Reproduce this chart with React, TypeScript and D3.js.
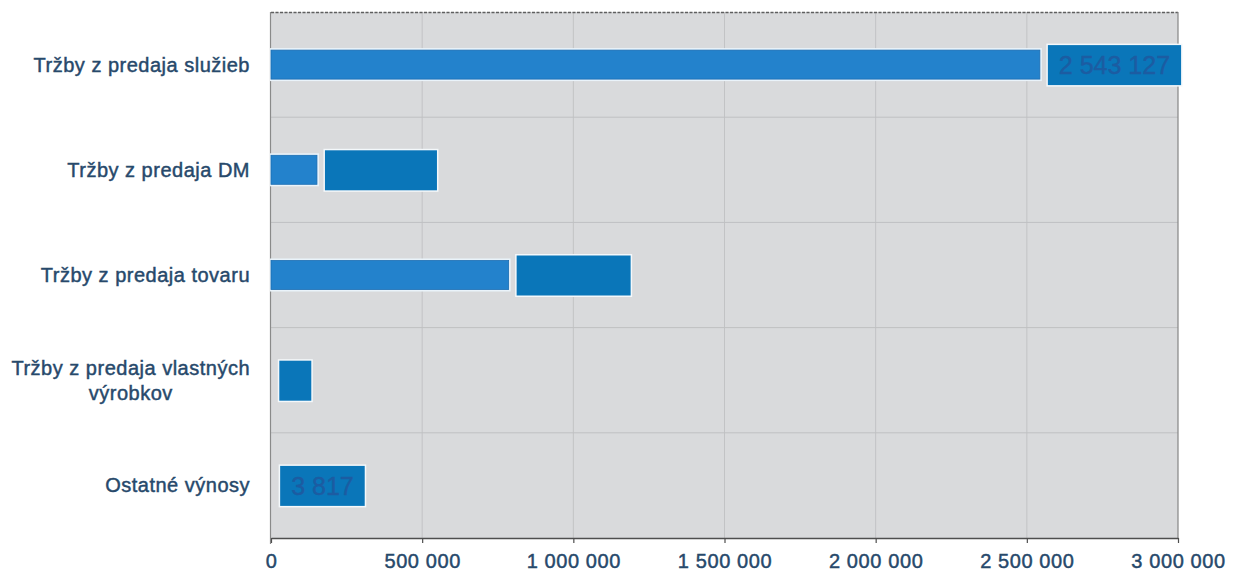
import React, { useEffect, useRef } from "react";
import * as d3 from "d3";

// ---- data ----
const categories = [
  "Tržby z predaja služieb",
  "Tržby z predaja DM",
  "Tržby z predaja tovaru",
  "Tržby z predaja vlastných výrobkov",
  "Ostatné výnosy",
];
const categoryLines = [
  ["Tržby z predaja služieb"],
  ["Tržby z predaja DM"],
  ["Tržby z predaja tovaru"],
  ["Tržby z predaja vlastných", "výrobkov"],
  ["Ostatné výnosy"],
];
const values = [2543127, 152000, 786000, 1000, 3817];
// null = value label is blacked out in the source
const valueLabels: (string | null)[] = ["2 543 127", null, null, null, "3 817"];
const redactedBoxWidths = [0, 112, 114, 32, 0];
const xTicks = [0, 500000, 1000000, 1500000, 2000000, 2500000, 3000000];
const xTickLabels = ["0", "500 000", "1 000 000", "1 500 000", "2 000 000", "2 500 000", "3 000 000"];

const W = 1238;
const H = 575;
const M = { left: 271, right: 1178, top: 12, bottom: 538 };
const FONT = "'Liberation Sans', Arial, sans-serif";
const TEXT_COLOR = "#27496b";

export default function App() {
  const ref = useRef<SVGSVGElement | null>(null);

  useEffect(() => {
    const svg = d3.select(ref.current);
    svg.selectAll("*").remove();

    const x = d3.scaleLinear().domain([0, 3000000]).range([M.left, M.right]);
    const y = d3.scaleBand<string>().domain(categories).range([M.top, M.bottom]).padding(0);
    const bw = y.bandwidth();

    // plot background
    svg.append("rect")
      .attr("x", M.left).attr("y", M.top)
      .attr("width", M.right - M.left).attr("height", M.bottom - M.top)
      .attr("fill", "#d9dadc");

    // vertical grid
    svg.append("g").selectAll("line")
      .data(xTicks.slice(1, -1))
      .join("line")
      .attr("x1", (d) => x(d)).attr("x2", (d) => x(d))
      .attr("y1", M.top).attr("y2", M.bottom)
      .attr("stroke", "#c2c3c5").attr("stroke-width", 1);

    // horizontal grid at category boundaries
    svg.append("g").selectAll("line")
      .data(categories.slice(1))
      .join("line")
      .attr("x1", M.left).attr("x2", M.right)
      .attr("y1", (d) => y(d)!).attr("y2", (d) => y(d)!)
      .attr("stroke", "#bfc0c2").attr("stroke-width", 1);

    // frame
    svg.append("line").attr("x1", M.left).attr("x2", M.right).attr("y1", M.top + 0.5).attr("y2", M.top + 0.5)
      .attr("stroke", "#5f5f5f").attr("stroke-dasharray", "3,1.5").attr("stroke-width", 1.5);
    svg.append("line").attr("x1", M.right).attr("x2", M.right).attr("y1", M.top).attr("y2", M.bottom)
      .attr("stroke", "#858585").attr("stroke-width", 1.2);
    svg.append("line").attr("x1", M.left - 0.5).attr("x2", M.left - 0.5).attr("y1", M.top).attr("y2", M.bottom + 6)
      .attr("stroke", "#8a8a8a").attr("stroke-width", 1.2);

    // bars
    const barH = 29;
    const bars = svg.append("g");
    categories.forEach((c, i) => {
      const cy = y(c)! + bw / 2;
      const w = x(values[i]) - x(0);
      if (w < 3) return; // too thin to be visible in the source
      bars.append("rect")
        .attr("x", x(0) - 1).attr("y", cy - barH / 2 - 2)
        .attr("width", w + 3).attr("height", barH + 4)
        .attr("fill", "#eaf3fa");
      bars.append("rect")
        .attr("x", x(0)).attr("y", cy - barH / 2)
        .attr("width", w).attr("height", barH)
        .attr("fill", "#2382cc").attr("stroke", "#1b6db2").attr("stroke-width", 0.8);
    });

    // value label boxes
    const boxH = 40;
    const labels = svg.append("g");
    categories.forEach((c, i) => {
      const cy = y(c)! + bw / 2 + 0.5;
      const bx = x(values[i]) + 8;
      const lbl = valueLabels[i];
      let bwid = redactedBoxWidths[i];
      const grp = labels.append("g");
      const halo = grp.append("rect").attr("fill", "#f4f8fb");
      const box = grp.append("rect").attr("fill", "#0a76b9");
      if (lbl) {
        const t = grp.append("text")
          .attr("font-family", FONT).attr("font-size", 25)
          .attr("fill", "#1c5ca2")
          .attr("stroke", "#1c5ca2").attr("stroke-width", 0.4)
          .attr("text-anchor", "middle")
          .attr("dy", "0.36em")
          .text(lbl);
        bwid = (t.node() as SVGTextElement).getComputedTextLength() + 22;
        t.attr("x", bx + bwid / 2).attr("y", cy);
      }
      halo.attr("x", bx - 1.5).attr("y", cy - boxH / 2 - 1.5)
        .attr("width", bwid + 3).attr("height", boxH + 3);
      box.attr("x", bx).attr("y", cy - boxH / 2)
        .attr("width", bwid).attr("height", boxH);
    });

    // category labels
    const cat = svg.append("g").attr("font-family", FONT).attr("font-size", 20)
      .attr("fill", TEXT_COLOR).attr("stroke", TEXT_COLOR).attr("stroke-width", 0.45)
      .attr("letter-spacing", 0.5);
    categories.forEach((c, i) => {
      const cy = y(c)! + bw / 2;
      const lines = categoryLines[i];
      const lh = 25;
      const top = cy - ((lines.length - 1) * lh) / 2;
      const first = cat.append("text")
        .attr("x", 250).attr("y", top).attr("dy", "0.35em")
        .attr("text-anchor", "end").text(lines[0]);
      const w1 = (first.node() as SVGTextElement).getComputedTextLength();
      for (let k = 1; k < lines.length; k++) {
        cat.append("text")
          .attr("x", 250 - w1 / 2).attr("y", top + k * lh).attr("dy", "0.35em")
          .attr("text-anchor", "middle").text(lines[k]);
      }
    });

    // x axis
    const axis = d3.axisBottom(x)
      .tickValues(xTicks)
      .tickFormat((_d, i) => xTickLabels[i])
      .tickSize(5)
      .tickSizeOuter(0)
      .tickPadding(11);
    const ax = svg.append("g").attr("transform", `translate(0,${M.bottom})`).call(axis);
    ax.select(".domain").attr("stroke", "#4e4e4e").attr("stroke-width", 1.6);
    ax.selectAll(".tick line").attr("stroke", "#4e4e4e").attr("stroke-width", 1.2);
    ax.selectAll(".tick text")
      .attr("font-family", FONT).attr("font-size", 20)
      .attr("letter-spacing", 0.6)
      .attr("fill", TEXT_COLOR)
      .attr("stroke", TEXT_COLOR).attr("stroke-width", 0.45);
  }, []);

  return (
    <svg
      ref={ref}
      width={W}
      height={H}
      style={{ position: "absolute", left: 0, top: 0, background: "#ffffff", display: "block" }}
    />
  );
}
